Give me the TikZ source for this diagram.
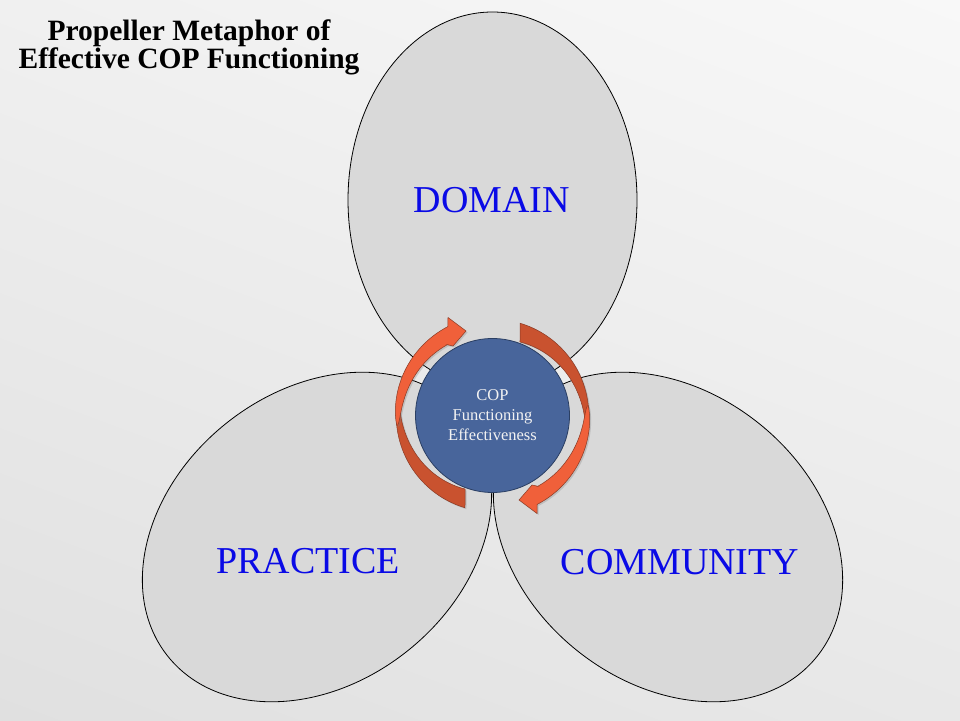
\documentclass[tikz,border=0pt]{standalone}
\usepackage{fontspec}
\setmainfont{Liberation Serif}
\usetikzlibrary{shadows,shadings}
\definecolor{bladefill}{HTML}{D9D9D9}
\definecolor{hubfill}{HTML}{48659B}
\definecolor{hubline}{HTML}{2B3F63}
\definecolor{arrowback}{HTML}{C9522F}
\definecolor{arrowfront}{HTML}{F0603A}
\definecolor{arrowline}{HTML}{8A3A24}
\definecolor{labelblue}{HTML}{0A0AE6}
\definecolor{bgul}{HTML}{F0F0F0}
\definecolor{bgur}{HTML}{F8F8F8}
\definecolor{bgll}{HTML}{E0E0E0}
\definecolor{bglr}{HTML}{E8E8E8}
\definecolor{hubtext}{HTML}{F2F2F2}
\begin{document}
\begin{tikzpicture}[x=1pt,y=1pt,
  blade/.style={fill=bladefill, draw=black, line width=0.8pt},
  bladelabel/.style={text=labelblue, font=\fontsize{38}{40}\selectfont, inner sep=0pt},
  backpart/.style={fill=arrowback, draw=arrowline, line width=0.5pt},
  frontpart/.style={fill=arrowfront, draw=arrowline, line width=0.5pt},
  softshadow/.style={drop shadow={opacity=0.3, shadow xshift=1.5pt, shadow yshift=-1.5pt}},
  hubstyle/.style={circle, fill=hubfill, draw=hubline, line width=0.8pt, minimum size=154pt, inner sep=0pt, align=center, text=hubtext, font=\fontsize{16.5}{20}\selectfont},
  titlestyle/.style={inner sep=0pt, anchor=base, align=center, font=\bfseries\fontsize{29.5}{25}\selectfont},
  wing/.pic={
    \path[backpart, softshadow] plot[domain=170:253.4, samples=40] (\x:96.3)
      -- (249.5:78.5)
      -- plot[domain=249.5:170.3, samples=40] (\x:{96-17.5*((\x-170)/79.5)^0.7}) -- cycle;
    \path[frontpart, softshadow] plot[domain=185.8:116.7, samples=40] (\x:{96+3.5*((186-\x)/69.3)^0.5})
      -- (-44.5,98) -- (-26.5,84.5) -- (-39.5,69.5) -- (-45.5,70.8)
      -- plot[domain=122.5:185.7, samples=40] (\x:{96-12*((186-\x)/63.5)^0.5}) -- cycle;
  }]
\useasboundingbox (0,0) rectangle (960,720);
\shade[upper left=bgul, upper right=bgur, lower left=bgll, lower right=bglr] (0,0) rectangle (960,720);
\coordinate (C) at (492.5,304.5);
% blades
\draw[blade] (492.5,520) ellipse [x radius=144.5pt, y radius=188pt];
\draw[blade, rotate around={38.7:(317,183)}] (317,183) ellipse [x radius=191pt, y radius=145.5pt];
\draw[blade, rotate around={-38.7:(668,183)}] (668,183) ellipse [x radius=191pt, y radius=145.5pt];
% labels
\node[bladelabel] (domain) at (491.7,520) {DOMAIN};
\node[bladelabel] (practice) at (308,159) {PRACTICE};
\node[bladelabel] (community) at (680,157.5) {COMMUNITY};
% hub
\node[hubstyle] (hub) at (C) {COP\\Functioning\\Effectiveness};
% rotating arrows
\pic at (C) {wing};
\pic[rotate=180] at (C) {wing};
% title
\node[titlestyle] (title) at (189,651.7) {Propeller Metaphor of\\Effective COP Functioning};
\end{tikzpicture}
\end{document}
